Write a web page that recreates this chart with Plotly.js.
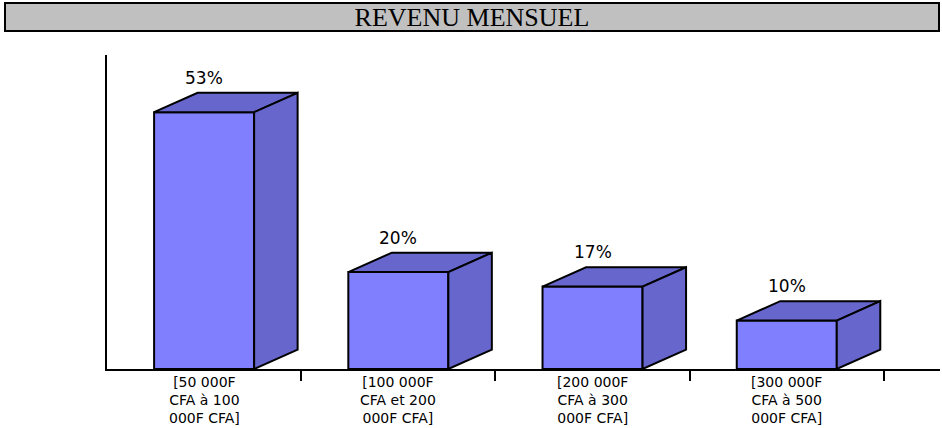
<!DOCTYPE html>
<html><head><meta charset="utf-8">
<script src="https://cdn.plot.ly/plotly-3.0.1.min.js"></script>
<style>html,body{margin:0;padding:0;background:#fff}#chart{width:942px;height:428px}</style>
</head><body><div id="chart"></div>
<script>
const chartTitle = "REVENU MENSUEL";
const categories = [
  "[50 000F\nCFA à 100\n000F CFA]",
  "[100 000F\nCFA et 200\n000F CFA]",
  "[200 000F\nCFA à 300\n000F CFA]",
  "[300 000F\nCFA à 500\n000F CFA]"
];
const values = [53, 20, 17, 10];
const valueLabels = ["53%", "20%", "17%", "10%"];

const FRONT = "#8080FF", SIDE = "#6666CC", EDGE = "#000000";
const barWidth = 0.515, depthX = 0.224, depthY = 4.0;
const xs = categories.map((_, i) => i);
const bounds = categories.map((_, i) => i + 0.5);

const traces = [];
values.forEach((v, i) => {
  const x0 = i - barWidth / 2, x1 = i + barWidth / 2;
  // top face
  traces.push({type: 'scatter', mode: 'lines',
    x: [x0, x0 + depthX, x1 + depthX, x1, x0],
    y: [v, v + depthY, v + depthY, v, v],
    fill: 'toself', fillcolor: SIDE, line: {color: EDGE, width: 2},
    hoverinfo: 'skip', showlegend: false});
  // side face
  traces.push({type: 'scatter', mode: 'lines',
    x: [x1, x1 + depthX, x1 + depthX, x1, x1],
    y: [v, v + depthY, depthY, 0, v],
    fill: 'toself', fillcolor: SIDE, line: {color: EDGE, width: 2},
    hoverinfo: 'skip', showlegend: false});
});
traces.push({type: 'bar', x: xs, y: values, width: barWidth,
  marker: {color: FRONT, line: {color: EDGE, width: 2}},
  hoverinfo: 'skip', showlegend: false});

const annotations = [];
values.forEach((v, i) => {
  annotations.push({x: i, y: v + depthY, xref: 'x', yref: 'y', text: valueLabels[i],
    showarrow: false, yanchor: 'bottom', xanchor: 'center', yshift: 3,
    font: {family: 'DejaVu Sans', size: 17, color: '#000'}});
});
categories.forEach((c, i) => {
  annotations.push({x: i, y: 0, xref: 'x', yref: 'y', text: c.split('\n').join('<br>'),
    showarrow: false, yanchor: 'top', xanchor: 'center', yshift: -4, align: 'center',
    borderpad: 0,
    font: {family: 'DejaVu Sans', size: 14, color: '#000'}});
});

const layout = {
  width: 942, height: 428,
  margin: {l: 107, r: 2, t: 55, b: 59, pad: 0},
  paper_bgcolor: '#ffffff', plot_bgcolor: 'rgba(0,0,0,0)',
  title: {text: chartTitle, font: {family: 'Liberation Serif', size: 26, color: '#000'},
    x: 0.501, xref: 'container', xanchor: 'center', y: 1 - 17 / 428, yref: 'container', yanchor: 'middle'},
  xaxis: {range: [-0.5, 3.789], tickmode: 'array', tickvals: bounds, ticktext: bounds.map(() => ''),
    ticks: 'outside', ticklen: 10, tickwidth: 2, tickcolor: '#000',
    showline: true, linecolor: '#000', linewidth: 1.5, showgrid: false, zeroline: false, fixedrange: true},
  yaxis: {range: [0, 64.8], showline: true, linecolor: '#000', linewidth: 2.5,
    showticklabels: false, ticks: '', showgrid: false, zeroline: false, fixedrange: true},
  shapes: [{type: 'rect', xref: 'paper', yref: 'paper', layer: 'below',
    x0: (5 - 107) / 833, x1: (939 - 107) / 833, y0: (369 - 31) / 314, y1: (369 - 3) / 314,
    fillcolor: '#C0C0C0', line: {color: '#000', width: 2}}],
  annotations: annotations,
  showlegend: false,
  bargap: 0
};

Plotly.newPlot('chart', traces, layout, {displayModeBar: false, staticPlot: true});
</script>
</body></html>
